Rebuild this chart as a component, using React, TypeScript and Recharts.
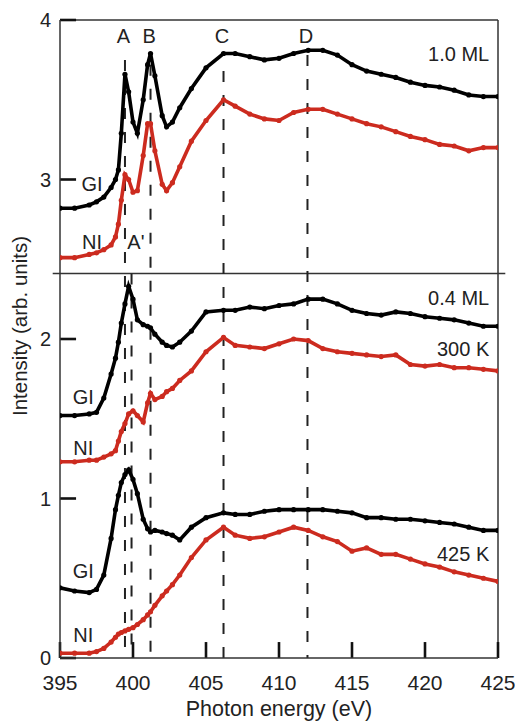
import React from 'react';
import {
  LineChart,
  Line,
  XAxis,
  YAxis,
  ReferenceLine,
  ReferenceDot,
} from 'recharts';

// photon energy grid (eV), finer around the A/B resonances
const energy = [
  395, 396, 397, 397.5, 398, 398.5, 398.8, 399, 399.2, 399.45, 399.7, 400, 400.3, 400.7,
  401, 401.2, 401.5, 402, 402.3, 402.7, 403.2, 404, 405, 406.2, 407, 408, 409, 410, 411,
  412, 413, 414, 415, 416, 417, 418, 419, 420, 421, 422, 423, 424, 425,
];

// 1.0 ML
const ml10GI = [
  2.82, 2.82, 2.84, 2.86, 2.89, 2.95, 3.0, 3.06, 3.29, 3.66, 3.55, 3.36, 3.29, 3.5,
  3.72, 3.79, 3.65, 3.4, 3.33, 3.36, 3.45, 3.57, 3.7, 3.79, 3.79, 3.77, 3.75, 3.76, 3.79,
  3.81, 3.81, 3.78, 3.72, 3.68, 3.66, 3.64, 3.61, 3.59, 3.58, 3.56, 3.53, 3.52, 3.52,
];
const ml10NI = [
  2.51, 2.51, 2.53, 2.54, 2.56, 2.59, 2.64, 2.72, 2.87, 3.03, 3.0, 2.92, 2.93, 3.15,
  3.35, 3.35, 3.18, 2.97, 2.93, 2.98, 3.08, 3.24, 3.37, 3.5, 3.46, 3.41, 3.38, 3.37, 3.42,
  3.44, 3.44, 3.41, 3.38, 3.35, 3.33, 3.3, 3.27, 3.25, 3.22, 3.21, 3.18, 3.2, 3.2,
];

// 0.4 ML, 300 K
const k300GI = [
  1.52, 1.52, 1.53, 1.54, 1.63, 1.78, 1.88, 1.98, 2.1, 2.22, 2.33, 2.25, 2.12, 2.09,
  2.08, 2.07, 2.03, 1.98, 1.96, 1.95, 1.98, 2.05, 2.17, 2.18, 2.18, 2.2, 2.19, 2.21, 2.22,
  2.25, 2.25, 2.22, 2.18, 2.16, 2.15, 2.17, 2.16, 2.14, 2.13, 2.12, 2.1, 2.08, 2.08,
];
const k300NI = [
  1.23, 1.23, 1.24, 1.24, 1.26, 1.28, 1.3, 1.36, 1.42, 1.47, 1.53, 1.55, 1.52, 1.48,
  1.6, 1.66, 1.62, 1.64, 1.67, 1.69, 1.74, 1.8, 1.92, 2.01, 1.96, 1.95, 1.94, 1.97, 2.0,
  1.99, 1.94, 1.92, 1.91, 1.9, 1.89, 1.9, 1.84, 1.83, 1.84, 1.82, 1.82, 1.81, 1.8,
];

// 0.4 ML, 425 K
const k425GI = [
  0.44, 0.42, 0.41, 0.43, 0.52, 0.75, 0.93, 1.02, 1.1, 1.15, 1.18, 1.12, 1.03, 0.87,
  0.81, 0.79, 0.8, 0.79, 0.78, 0.77, 0.74, 0.82, 0.88, 0.91, 0.9, 0.9, 0.92, 0.93, 0.93,
  0.93, 0.93, 0.92, 0.91, 0.88, 0.88, 0.87, 0.87, 0.86, 0.85, 0.84, 0.82, 0.8, 0.8,
];
const k425NI = [
  0.03, 0.03, 0.03, 0.04, 0.06, 0.1, 0.13, 0.15, 0.16, 0.17, 0.18, 0.19, 0.21, 0.24,
  0.27, 0.29, 0.33, 0.39, 0.42, 0.46, 0.52, 0.63, 0.74, 0.82, 0.77, 0.75, 0.76, 0.79, 0.82,
  0.8, 0.76, 0.73, 0.67, 0.69, 0.65, 0.65, 0.62, 0.59, 0.57, 0.54, 0.52, 0.5, 0.48,
];

const xTicks = [395, 400, 405, 410, 415, 420, 425];
const yTicks = [0, 1, 2, 3, 4];

// dashed marker lines: name, energy, top of the line
const markers = [
  { name: 'A', x: 399.45, top: 3.75 },
  { name: 'B', x: 401.2, top: 3.72 },
  { name: 'C', x: 406.2, top: 3.68 },
  { name: 'D', x: 411.95, top: 3.78 },
];
const aPrime = { x: 399.9, top: 2.41 };
const separatorY = 2.41;

// curve labels on the left
const curveLabels = [
  { text: 'GI', x: 397.2, y: 2.97 },
  { text: 'NI', x: 397.2, y: 2.61 },
  { text: "A'", x: 400.2, y: 2.61 },
  { text: 'GI', x: 396.6, y: 1.64 },
  { text: 'NI', x: 396.6, y: 1.32 },
  { text: 'GI', x: 396.6, y: 0.545 },
  { text: 'NI', x: 396.6, y: 0.145 },
];
// panel labels on the right
const panelLabels = [
  { text: '1.0 ML', y: 3.79 },
  { text: '0.4 ML', y: 2.26 },
  { text: '300 K', y: 1.94 },
  { text: '425 K', y: 0.65 },
];

const rows = energy.map((e, i) => ({
  e,
  ml10GI: ml10GI[i],
  ml10NI: ml10NI[i],
  k300GI: k300GI[i],
  k300NI: k300NI[i],
  k425GI: k425GI[i],
  k425NI: k425NI[i],
}));

const RED = '#cc2b1f';
const INK = '#222';
const AXIS = '#333';
const FONT = 'Liberation Sans, Arial, sans-serif';

// inward tick length in data units (~16px)
const X_TICK_LEN = 0.1;
const Y_TICK_LEN = 1.1;

const series = [
  { key: 'ml10GI', color: '#000' },
  { key: 'ml10NI', color: RED },
  { key: 'k300GI', color: '#000' },
  { key: 'k300NI', color: RED },
  { key: 'k425GI', color: '#000' },
  { key: 'k425NI', color: RED },
];

export default function App() {
  return (
    <div style={{ position: 'absolute', left: 0, top: 0, fontFamily: FONT, background: '#fff' }}>
      <LineChart width={515} height={722} data={rows} margin={{ top: 20, right: 17, bottom: 0, left: 0 }}>
        <XAxis
          dataKey="e"
          type="number"
          domain={[395, 425]}
          ticks={xTicks}
          allowDataOverflow
          height={64}
          tickLine={false}
          tickSize={0}
          tickMargin={17}
          tick={{ fontSize: 21, fill: INK, fontFamily: FONT }}
          stroke={AXIS}
          strokeWidth={1.5}
          label={{ value: 'Photon energy (eV)', position: 'insideBottom', offset: 6, fontSize: 21.5, fill: INK, fontFamily: FONT }}
        />
        <YAxis
          type="number"
          domain={[0, 4]}
          ticks={yTicks}
          allowDataOverflow
          width={60}
          tickLine={false}
          tickSize={0}
          tickMargin={9}
          tick={{ fontSize: 20, fill: INK, fontFamily: FONT }}
          stroke={AXIS}
          strokeWidth={1.5}
          label={{
            content: () => (
              <text
                x={22}
                y={326}
                transform="rotate(-90 22 326)"
                textAnchor="middle"
                dominantBaseline="middle"
                fontSize={20.5}
                fill={INK}
                fontFamily={FONT}
              >
                Intensity (arb. units)
              </text>
            ),
          }}
        />
        {/* frame: top and right edges */}
        <ReferenceLine segment={[{ x: 395, y: 4 }, { x: 425, y: 4 }]} stroke={AXIS} strokeWidth={1.5} ifOverflow="visible" />
        <ReferenceLine segment={[{ x: 425, y: 0 }, { x: 425, y: 4 }]} stroke={AXIS} strokeWidth={1.5} ifOverflow="visible" />
        {/* inward ticks */}
        {xTicks.map((t) => (
          <ReferenceLine
            key={'xt' + t}
            segment={[{ x: t, y: X_TICK_LEN }, { x: t, y: 0 }]}
            stroke="#111"
            strokeWidth={2.6}
            ifOverflow="visible"
          />
        ))}
        {yTicks.map((t) => (
          <ReferenceLine
            key={'yt' + t}
            segment={[{ x: 395, y: t }, { x: 395 + Y_TICK_LEN, y: t }]}
            stroke="#111"
            strokeWidth={2.6}
            ifOverflow="visible"
          />
        ))}
        <ReferenceLine
          segment={[{ x: 394.5, y: separatorY }, { x: 425.5, y: separatorY }]}
          stroke={AXIS}
          strokeWidth={1.5}
          ifOverflow="visible"
        />
        {markers.map((m) => (
          <ReferenceLine
            key={m.name}
            segment={[{ x: m.x, y: m.top }, { x: m.x, y: 0 }]}
            stroke="#222"
            strokeWidth={2}
            strokeDasharray="11 13"
          />
        ))}
        <ReferenceLine
          segment={[{ x: aPrime.x, y: aPrime.top }, { x: aPrime.x, y: 0 }]}
          stroke="#222"
          strokeWidth={2}
          strokeDasharray="11 13"
        />
        {series.map((s) => (
          <Line
            key={s.key}
            dataKey={s.key}
            stroke={s.color}
            strokeWidth={3.6}
            dot={{ r: 2.6, fill: s.color, stroke: 'none' }}
            isAnimationActive={false}
          />
        ))}
        {markers.map((m) => (
          <ReferenceDot
            key={'lbl' + m.name}
            x={m.x - 0.1}
            y={3.9}
            r={0}
            label={{ value: m.name, position: 'center', fontSize: 20, fill: INK, fontFamily: FONT }}
          />
        ))}
        {curveLabels.map((c, i) => (
          <ReferenceDot
            key={'c' + i}
            x={c.x}
            y={c.y}
            r={0}
            label={{ value: c.text, position: 'center', fontSize: 20, fill: INK, fontFamily: FONT }}
          />
        ))}
        {panelLabels.map((p, i) => (
          <ReferenceDot
            key={'p' + i}
            x={424.4}
            y={p.y}
            r={0}
            label={{ value: p.text, position: 'left', offset: 0, fontSize: 20, fill: INK, fontFamily: FONT }}
          />
        ))}
      </LineChart>
    </div>
  );
}
